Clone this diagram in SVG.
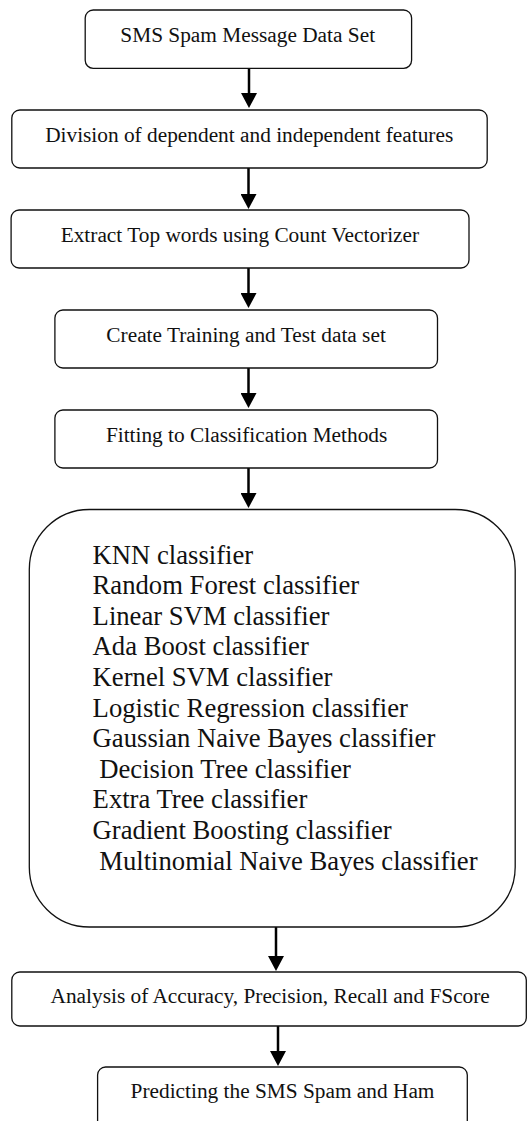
<svg xmlns="http://www.w3.org/2000/svg" width="528" height="1121" viewBox="0 0 528 1121">
  <style>
    .box { fill: #ffffff; stroke: #111111; stroke-width: 1.3; }
    .lbl { font-family: "Liberation Serif", "Times New Roman", serif; font-size: 21.33px; fill: #111111; text-anchor: middle; }
    .item { font-family: "Liberation Serif", "Times New Roman", serif; font-size: 26.67px; fill: #111111; }
    .edge { stroke: #000000; stroke-width: 2.5; fill: none; }
  </style>
  <defs>
    <marker id="head" markerUnits="userSpaceOnUse" markerWidth="15" markerHeight="16" viewBox="0 0 15 16" refX="1" refY="8" orient="auto">
      <path d="M0,0 L15,8 L0,16 Z" fill="#000000"/>
    </marker>
  </defs>
  <rect width="528" height="1121" fill="#ffffff"/>

  <g id="connectors">
    <line class="edge" x1="249" y1="68" x2="249" y2="94" marker-end="url(#head)"/>
    <line class="edge" x1="248.5" y1="168" x2="248.5" y2="195" marker-end="url(#head)"/>
    <line class="edge" x1="248.5" y1="268" x2="248.5" y2="294" marker-end="url(#head)"/>
    <line class="edge" x1="248.5" y1="368" x2="248.5" y2="394" marker-end="url(#head)"/>
    <line class="edge" x1="248.5" y1="468" x2="248.5" y2="494" marker-end="url(#head)"/>
    <line class="edge" x1="276" y1="927" x2="276" y2="957" marker-end="url(#head)"/>
    <line class="edge" x1="278" y1="1026" x2="278" y2="1052" marker-end="url(#head)"/>
  </g>

  <g id="node-dataset">
    <rect class="box" x="85.2" y="10" width="326.4" height="58.3" rx="8"/>
    <text class="lbl" x="247.7" y="42.3">SMS Spam Message Data Set</text>
  </g>
  <g id="node-division">
    <rect class="box" x="11.8" y="110" width="475.4" height="58" rx="8"/>
    <text class="lbl" x="249.2" y="141.7">Division of dependent and independent features</text>
  </g>
  <g id="node-extract">
    <rect class="box" x="11.1" y="210" width="457.9" height="58" rx="8"/>
    <text class="lbl" x="239.9" y="241.7">Extract Top words using Count Vectorizer</text>
  </g>
  <g id="node-split">
    <rect class="box" x="54.9" y="310" width="382.6" height="58" rx="8"/>
    <text class="lbl" x="246.1" y="341.7">Create Training and Test data set</text>
  </g>
  <g id="node-fitting">
    <rect class="box" x="54.9" y="410" width="382.6" height="58" rx="8"/>
    <text class="lbl" x="246.6" y="441.7">Fitting to Classification Methods</text>
  </g>
  <g id="node-classifiers">
    <rect class="box" x="29.3" y="509.5" width="485.9" height="417.5" rx="60"/>
    <text class="item" xml:space="preserve">
      <tspan x="92.6" y="563.5">KNN classifier</tspan>
      <tspan x="92.6" y="594.1">Random Forest classifier</tspan>
      <tspan x="92.6" y="624.7">Linear SVM classifier</tspan>
      <tspan x="92.6" y="655.3">Ada Boost classifier</tspan>
      <tspan x="92.6" y="685.9">Kernel SVM classifier</tspan>
      <tspan x="92.6" y="716.5">Logistic Regression classifier</tspan>
      <tspan x="92.6" y="747.1">Gaussian Naive Bayes classifier</tspan>
      <tspan x="92.6" y="777.7"> Decision Tree classifier</tspan>
      <tspan x="92.6" y="808.3">Extra Tree classifier</tspan>
      <tspan x="92.6" y="838.9">Gradient Boosting classifier</tspan>
      <tspan x="92.6" y="869.5"> Multinomial Naive Bayes classifier</tspan>
    </text>
  </g>
  <g id="node-analysis">
    <rect class="box" x="11.8" y="972" width="514.5" height="54" rx="8"/>
    <text class="lbl" x="270.2" y="1002.7">Analysis of Accuracy, Precision, Recall and FScore</text>
  </g>
  <g id="node-predict">
    <rect class="box" x="97.6" y="1067" width="369.7" height="62" rx="8"/>
    <text class="lbl" x="282.5" y="1098">Predicting the SMS Spam and Ham</text>
  </g>
</svg>
